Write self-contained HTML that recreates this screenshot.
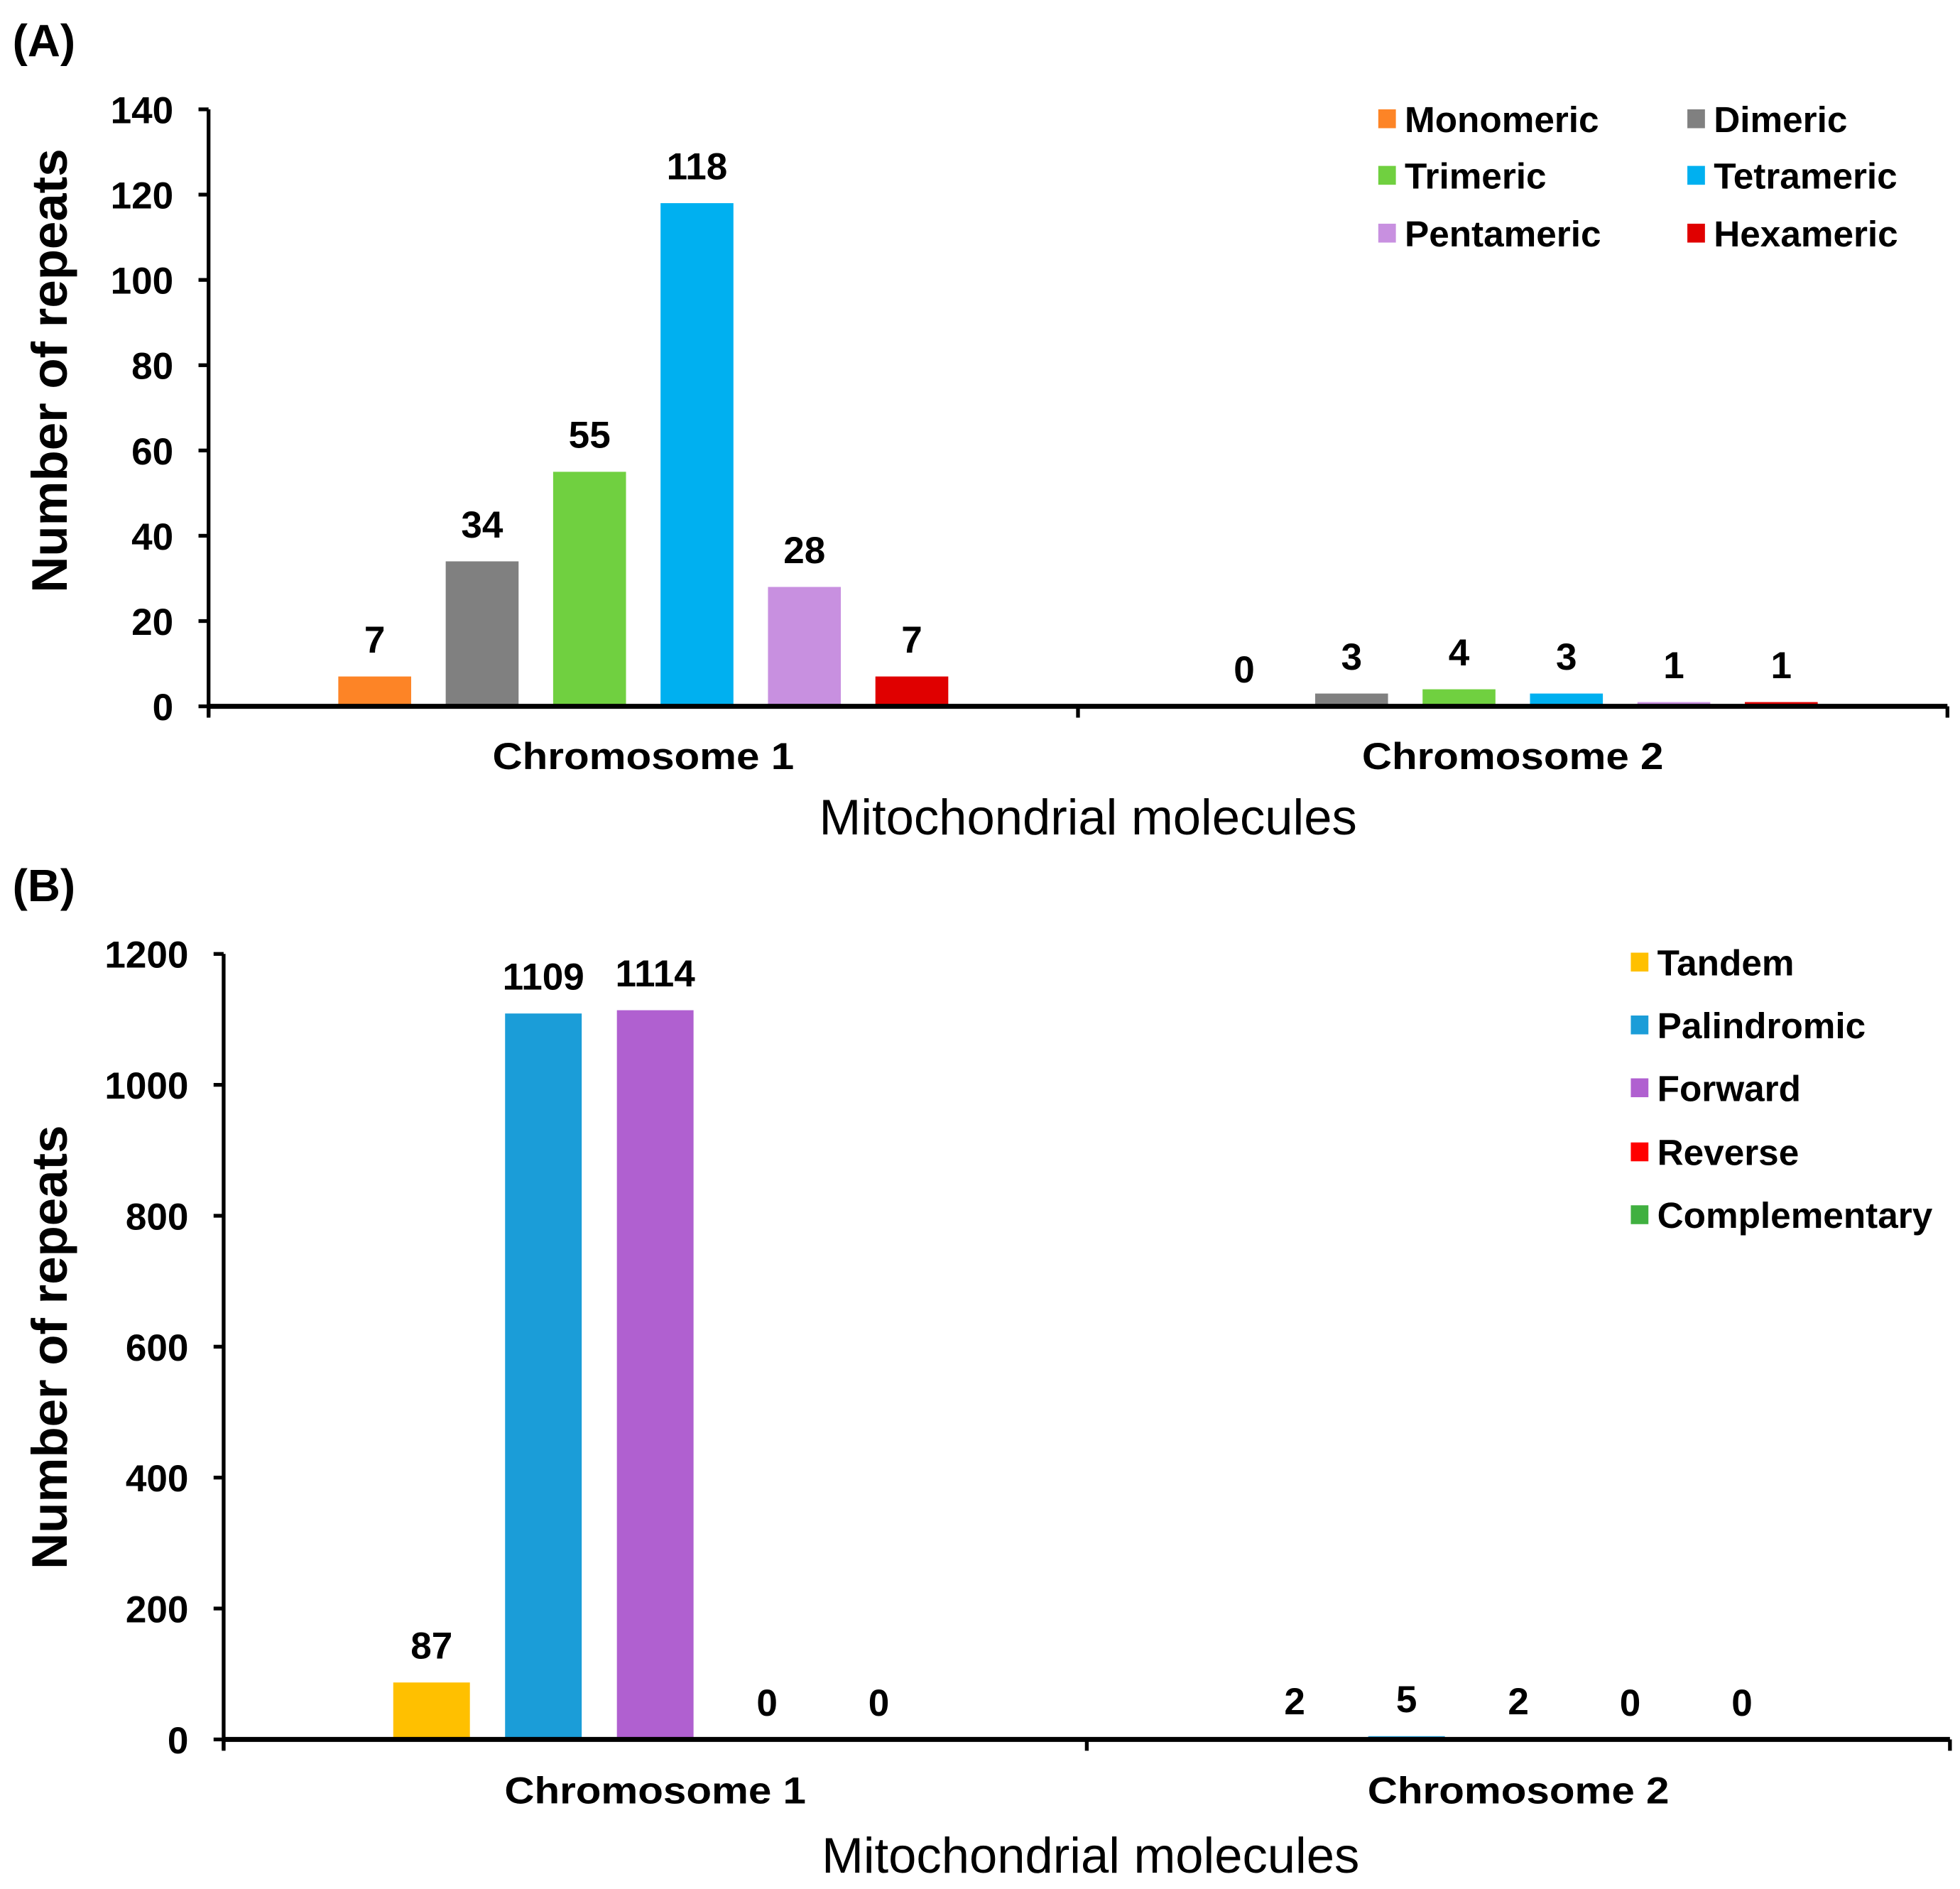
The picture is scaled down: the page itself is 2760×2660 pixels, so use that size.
<!DOCTYPE html>
<html><head><meta charset="utf-8"><style>
html,body{margin:0;padding:0;background:#fff;}
svg{display:block;}
text{font-family:"Liberation Sans",Arial,sans-serif;fill:#000;}
</style></head><body>
<svg id="fig" width="2760" height="2660" viewBox="0 0 1560 1503" preserveAspectRatio="none" xmlns="http://www.w3.org/2000/svg">
<text x="10" y="45" font-size="36" font-weight="bold">(A)</text>
<text x="10" y="717" font-size="36" font-weight="bold">(B)</text>
<g id="chartA"></g>
<g id="chartB"></g>
</svg>
<script>
const categoriesA = ["Chromosome 1", "Chromosome 2"];
const seriesNamesA = ["Monomeric","Dimeric","Trimeric","Tetrameric","Pentameric","Hexameric"];
const chrom1A = [7, 34, 55, 118, 28, 7];
const chrom2A = [0, 3, 4, 3, 1, 1];
const yTicksA = [0, 20, 40, 60, 80, 100, 120, 140];

const categoriesB = ["Chromosome 1", "Chromosome 2"];
const seriesNamesB = ["Tandem","Palindromic","Forward","Reverse","Complementary"];
const chrom1B = [87, 1109, 1114, 0, 0];
const chrom2B = [2, 5, 2, 0, 0];
const yTicksB = [0, 200, 400, 600, 800, 1000, 1200];

const NS = "http://www.w3.org/2000/svg";
function mk(parent, tag, attrs, txt) {
  const e = document.createElementNS(NS, tag);
  for (const k in attrs) e.setAttribute(k, attrs[k]);
  if (txt !== undefined) e.textContent = txt;
  parent.appendChild(e);
  return e;
}

function drawChart(g, cfg) {
  const y = v => cfg.y0 - (v / cfg.ymax) * (cfg.y0 - cfg.yTop);
  const catW = (cfg.x1 - cfg.x0) / cfg.cats.length;
  cfg.data.forEach((vals, ci) => {
    const cx = cfg.x0 + catW * (ci + 0.5) + cfg.catShift;
    const n = vals.length;
    vals.forEach((v, si) => {
      const bx = cx + (si - (n - 1) / 2) * cfg.spacing;
      const r = mk(g, "rect", {x: bx - cfg.bw / 2, y: y(v), width: cfg.bw, height: cfg.y0 - y(v), fill: cfg.colors[si]});
      
      
      const t = mk(g, "text", {x: bx, y: y(v) - 19, "font-size": cfg.valSize, "font-weight": "bold", "text-anchor": "middle"}, String(v));
      
      
    });
    const cl = mk(g, "text", {x: cx, y: cfg.y0 + cfg.catDy, "font-size": 30, "font-weight": "bold", "text-anchor": "middle", textLength: 240, lengthAdjust: "spacingAndGlyphs"}, cfg.cats[ci]);
    
    
  });
  const ya = mk(g, "line", {x1: cfg.x0, y1: cfg.yTop, x2: cfg.x0, y2: cfg.y0 + 8, stroke: "#000", "stroke-width": 3});
  
  
  const xa = mk(g, "line", {x1: cfg.x0, y1: cfg.y0, x2: cfg.x1, y2: cfg.y0, stroke: "#000", "stroke-width": 4});
  
  
  for (let i = 0; i <= cfg.cats.length; i++) {
    const tx = cfg.x0 + catW * i;
    mk(g, "line", {x1: tx, y1: cfg.y0, x2: tx, y2: cfg.y0 + 9, stroke: "#000", "stroke-width": 3});
  }
  cfg.ticks.forEach(t => {
    mk(g, "line", {x1: cfg.x0 - 8, y1: y(t), x2: cfg.x0, y2: y(t), stroke: "#000", "stroke-width": 3});
    const tl = mk(g, "text", {x: cfg.x0 - 28, y: y(t) + 11, "font-size": 30, "font-weight": "bold", "text-anchor": "end"}, String(t));
    
    
  });
  const xt = mk(g, "text", {x: cfg.xTitleX, y: cfg.xTitleY, "font-size": 40, "text-anchor": "middle", textLength: 428, lengthAdjust: "spacingAndGlyphs"}, "Mitochondrial molecules");
  
  
  const yt = mk(g, "text", {x: 0, y: 0, "font-size": 40, "font-weight": "bold", "text-anchor": "middle", transform: "translate(" + cfg.yTitleX + "," + cfg.yTitleY + ") rotate(-90)"}, "Number of  repeats");
  
  
  cfg.legend.forEach((p, i) => {
    const sw = mk(g, "rect", {x: p[0], y: p[1] - 8, width: 14, height: 15, fill: cfg.colors[i]});
    
    
    const lt = mk(g, "text", {x: p[0] + 21, y: p[1] + 10, "font-size": 29, "font-weight": "bold"}, cfg.names[i]);
    
    
  });
}

drawChart(document.getElementById("chartA"), {
  x0: 166, x1: 1550, y0: 562, yTop: 87, ymax: 140, ticks: yTicksA,
  cats: categoriesA, data: [chrom1A, chrom2A], names: seriesNamesA,
  colors: ["#FD8426","#808080","#70D040","#00B0F0","#C890E0","#E00000"],
  spacing: 85.5, bw: 58, catShift: 0, valSize: 30, catDy: 50,
  xTitleX: 866, xTitleY: 664, yTitleX: 53, yTitleY: 295,
  legend: [[1097,95],[1343,95],[1097,140],[1343,140],[1097,186],[1343,186]]
});
drawChart(document.getElementById("chartB"), {
  x0: 178, x1: 1552, y0: 1384, yTop: 759, ymax: 1200, ticks: yTicksB,
  cats: categoriesB, data: [chrom1B, chrom2B], names: seriesNamesB,
  colors: ["#FFC000","#1B9DD8","#B060D0","#FF0000","#40B040"],
  spacing: 89, bw: 61, catShift: 0, valSize: 30, catDy: 51,
  xTitleX: 868, xTitleY: 1490, yTitleX: 53, yTitleY: 1072,
  legend: [[1298,766],[1298,816],[1298,866],[1298,917],[1298,967]]
});
</script>
</body></html>
